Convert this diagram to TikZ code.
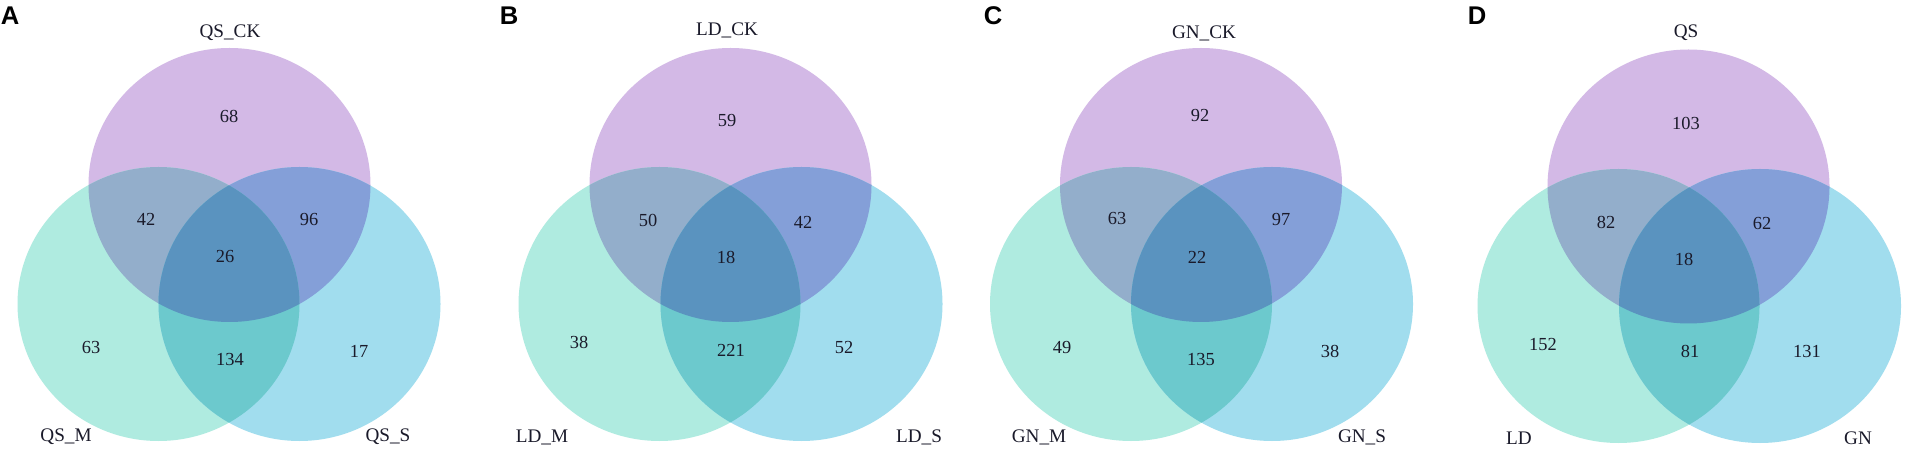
\documentclass[tikz,border=0pt]{standalone}
\usepackage{fontspec}
\setmainfont{Liberation Serif}
\newfontfamily\panelfont{Liberation Sans}
\definecolor{cT}{HTML}{D3B9E6}
\definecolor{cL}{HTML}{AFEBE0}
\definecolor{cR}{HTML}{A1DDEE}
\definecolor{cTL}{HTML}{93AECB}
\definecolor{cTR}{HTML}{849FD8}
\definecolor{cLR}{HTML}{6CC9CD}
\definecolor{cC}{HTML}{5A93BF}
\definecolor{txt}{HTML}{1A1A2A}
\newcommand\vennpanel[5]{%
  \fill[cT] (#1,#2) ellipse [x radius=141,y radius=137];
  \fill[cL] (#3,#5) ellipse [x radius=141,y radius=137];
  \fill[cR] (#4,#5) ellipse [x radius=141,y radius=137];
  \begin{scope}
    \clip (#1,#2) ellipse [x radius=141,y radius=137];
    \fill[cTL] (#3,#5) ellipse [x radius=141,y radius=137];
    \fill[cTR] (#4,#5) ellipse [x radius=141,y radius=137];
  \end{scope}
  \begin{scope}
    \clip (#3,#5) ellipse [x radius=141,y radius=137];
    \fill[cLR] (#4,#5) ellipse [x radius=141,y radius=137];
    \clip (#1,#2) ellipse [x radius=141,y radius=137];
    \fill[cC] (#4,#5) ellipse [x radius=141,y radius=137];
  \end{scope}}
\begin{document}
\begin{tikzpicture}[x=0.5pt,y=-0.5pt,
  num/.style={font=\fontsize{9.2}{11}\selectfont, inner sep=0pt, text=txt},
  lab/.style={font=\fontsize{9.6}{11}\selectfont, inner sep=0pt, text=txt},
  tag/.style={font=\panelfont\bfseries\fontsize{12.8}{14}\selectfont, inner sep=0pt}]
\useasboundingbox[fill=white] (0,0) rectangle (1910,459);
% panels
\vennpanel{229.5}{185}{158.5}{299.5}{304}
\vennpanel{730.5}{185}{659.5}{801.5}{304}
\vennpanel{1201}{185}{1131}{1272}{304}
\vennpanel{1688.5}{186.5}{1618.5}{1760}{306}
% panel A
\node[tag] (tA) at (10,16) {A};
\node[lab] (aT) at (230,33) {QS\_CK};
\node[lab] (aL) at (66,437) {QS\_M};
\node[lab] (aR) at (388,437) {QS\_S};
\node[num] (a1) at (229,116) {68};
\node[num] (a2) at (146,219) {42};
\node[num] (a3) at (309,220) {96};
\node[num] (a4) at (225,257) {26};
\node[num] (a5) at (91,347) {63};
\node[num] (a6) at (230,359) {134};
\node[num] (a7) at (359,351) {17};
% panel B
\node[tag] (tB) at (509,16) {B};
\node[lab] (bT) at (727,30) {LD\_CK};
\node[lab] (bL) at (542,437) {LD\_M};
\node[lab] (bR) at (919,437) {LD\_S};
\node[num] (b1) at (727,121) {59};
\node[num] (b2) at (648,220) {50};
\node[num] (b3) at (803,222) {42};
\node[num] (b4) at (726,257) {18};
\node[num] (b5) at (579,342) {38};
\node[num] (b6) at (731,350) {221};
\node[num] (b7) at (844,347) {52};
% panel C
\node[tag] (tC) at (993,16) {C};
\node[lab] (cTl) at (1204,33) {GN\_CK};
\node[lab] (cLl) at (1039,437) {GN\_M};
\node[lab] (cRl) at (1362,437) {GN\_S};
\node[num] (c1) at (1200,116) {92};
\node[num] (c2) at (1117,219) {63};
\node[num] (c3) at (1281,220) {97};
\node[num] (c4) at (1197,257) {22};
\node[num] (c5) at (1062,347) {49};
\node[num] (c6) at (1201,359) {135};
\node[num] (c7) at (1330,351) {38};
% panel D
\node[tag] (tD) at (1477,16) {D};
\node[lab] (dT) at (1686,33) {QS};
\node[lab] (dL) at (1519,438) {LD};
\node[lab] (dR) at (1858,438) {GN};
\node[num] (d1) at (1686,123) {103};
\node[num] (d2) at (1606,222) {82};
\node[num] (d3) at (1762,224) {62};
\node[num] (d4) at (1684,259) {18};
\node[num] (d5) at (1543,344) {152};
\node[num] (d6) at (1690,351) {81};
\node[num] (d7) at (1807,351) {131};
\end{tikzpicture}
\end{document}
